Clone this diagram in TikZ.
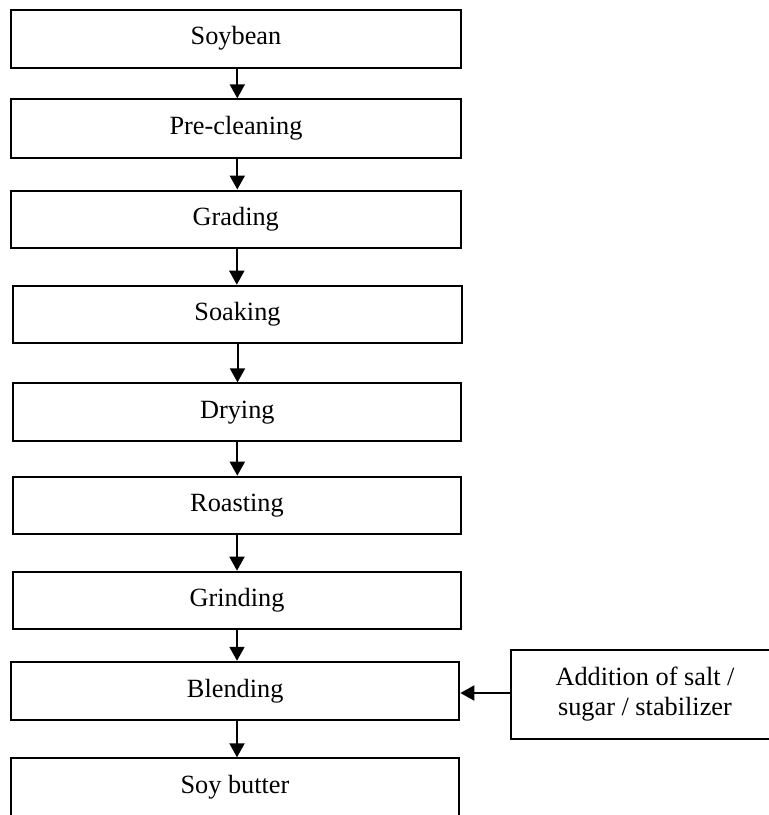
\documentclass[tikz,border=0pt]{standalone}
\usepackage{fontspec}
\setmainfont{Liberation Serif}
\usetikzlibrary{arrows.meta}
\begin{document}
\begin{tikzpicture}[x=1pt,y=-1pt,
  stepbox/.style={draw=black, line width=2pt, rectangle, inner sep=0pt, align=center,
    font=\fontsize{26.3}{30}\selectfont},
  arr/.style={line width=2pt, -{Triangle[width=15pt,length=14pt]}}]
\useasboundingbox (0,0) rectangle (769,815);
\node[stepbox, minimum width=450pt, minimum height=58.2pt] (b1) at (236,38.6) {Soybean};
\node[stepbox, minimum width=450pt, minimum height=58.4pt] (b2) at (236,128.5) {Pre-cleaning};
\node[stepbox, minimum width=449.5pt, minimum height=57.8pt] (b3) at (235.8,219.4) {Grading};
\node[stepbox, minimum width=448.4pt, minimum height=57.6pt] (b4) at (237.5,314.5) {Soaking};
\node[stepbox, minimum width=448pt, minimum height=57.7pt] (b5) at (237.3,412.2) {Drying};
\node[stepbox, minimum width=448pt, minimum height=57.6pt] (b6) at (237,505.5) {Roasting};
\node[stepbox, minimum width=448pt, minimum height=57pt] (b7) at (237,600.2) {Grinding};
\node[stepbox, minimum width=448.3pt, minimum height=58.3pt] (b8) at (235.2,690.9) {Blending};
\node[stepbox, minimum width=448pt, minimum height=58.2pt] (b9) at (235,787.4) {Soy butter};
\node[stepbox, minimum width=268pt, minimum height=89pt] (s) at (645,694.5) {Addition of salt /\\sugar / stabilizer};
\draw[arr] ([xshift=1.3pt]b1.south) -- ([xshift=1.3pt]b1.south |- b2.north);
\draw[arr] ([xshift=1.3pt]b2.south) -- ([xshift=1.3pt]b2.south |- b3.north);
\draw[arr] ([xshift=1pt]b3.south) -- ([xshift=1pt]b3.south |- b4.north);
\draw[arr] (b4.south) -- (b4.south |- b5.north);
\draw[arr] (b5.south) -- (b5.south |- b6.north);
\draw[arr] (b6.south) -- (b6.south |- b7.north);
\draw[arr] (b7.south) -- (b7.south |- b8.north);
\draw[arr] ([xshift=1.8pt]b8.south) -- ([xshift=1.8pt]b8.south |- b9.north);
\coordinate (sa) at ([yshift=1.5pt]s.west);
\draw[arr] (sa) -- (sa -| b8.east);
\end{tikzpicture}
\end{document}
